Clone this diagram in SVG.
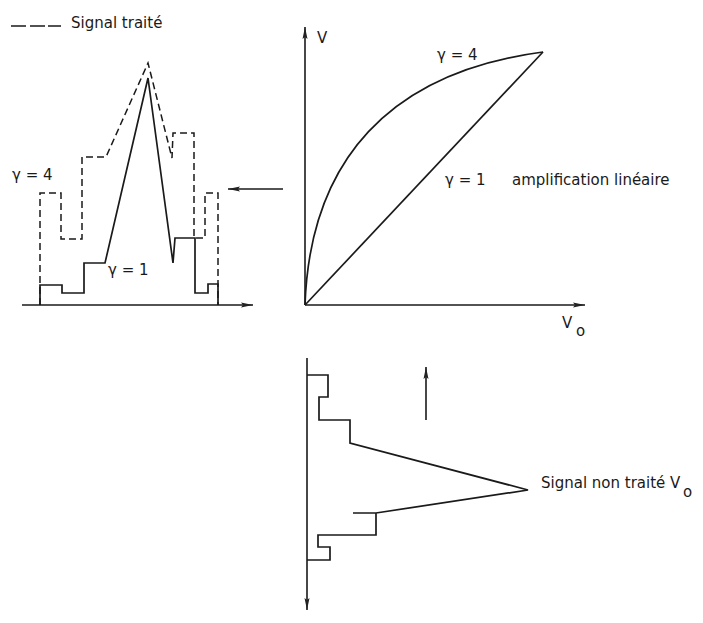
<svg xmlns="http://www.w3.org/2000/svg" width="703" height="623" viewBox="0 0 703 623">
<defs>
<marker id="ah" viewBox="0 0 12 6" refX="12" refY="3" markerWidth="12" markerHeight="6" markerUnits="userSpaceOnUse" orient="auto">
<path d="M0,0.5 L12,3 L0,5.5 L2,3 Z" fill="#222"/>
</marker>
<style>
.t{font-family:"DejaVu Sans","Liberation Sans",sans-serif;font-size:15px;fill:#1a1a1a}
.s{fill:none;stroke:#1a1a1a;stroke-width:1.7;stroke-linejoin:miter}
.d{fill:none;stroke:#1a1a1a;stroke-width:1.5;stroke-dasharray:7 4}
.ax{fill:none;stroke:#1a1a1a;stroke-width:1.6;marker-end:url(#ah)}
</style>
</defs>
<rect width="703" height="623" fill="#fff"/>
<g id="legend">
<path class="s" d="M11,26 H26 M30,26 H45 M48,26 H61" stroke-width="1.5"/>
<text class="t" x="71" y="28">Signal traité</text>
</g>
<g id="processed-signal">
<line class="ax" x1="22" y1="305" x2="253" y2="305"/>
<path class="s" d="M40,305 V285 H62 V293 H84 V263 H105 L148,78 L173,263 L175,238 H195 V293 H208 V284 H218 V305"/>
<path class="d" d="M40,305 V193 H61 V239 H82 V157 H106 L148,63 L172,158 L173,133 H194 V238 H205 V193 H218 V305"/>
<text class="t" x="12" y="180">γ = 4</text>
<text class="t" x="108" y="275">γ = 1</text>
</g>
<g id="transfer-curve">
<line class="ax" x1="305" y1="305" x2="305" y2="27"/>
<line class="ax" x1="305" y1="305" x2="585" y2="305"/>
<path class="s" d="M305,305 C310,160 390,72 543,52"/>
<line class="s" x1="305" y1="305" x2="543" y2="52"/>
<text class="t" x="317" y="43">V</text>
<text class="t" x="562" y="328">V</text>
<text class="t" x="576" y="336" font-size="13">o</text>
<text class="t" x="437" y="60">γ = 4</text>
<text class="t" x="445" y="185">γ = 1</text>
<text class="t" x="512" y="185">amplification linéaire</text>
</g>
<g id="input-signal">
<line class="ax" x1="307" y1="358" x2="307" y2="610"/>
<path class="s" d="M307,375 H328 V397 H319 V420 H350 V443 L528,490 L376,513 H353 M376,513 V535 H318 V547 H330 V560 H307"/>
<text class="t" x="541" y="488">Signal non traité V</text>
<text class="t" x="683" y="497" font-size="13">o</text>
</g>
<g id="connectors">
<line class="ax" x1="283" y1="189" x2="228" y2="189"/>
<line class="ax" x1="426" y1="420" x2="426" y2="367"/>
</g>
</svg>
